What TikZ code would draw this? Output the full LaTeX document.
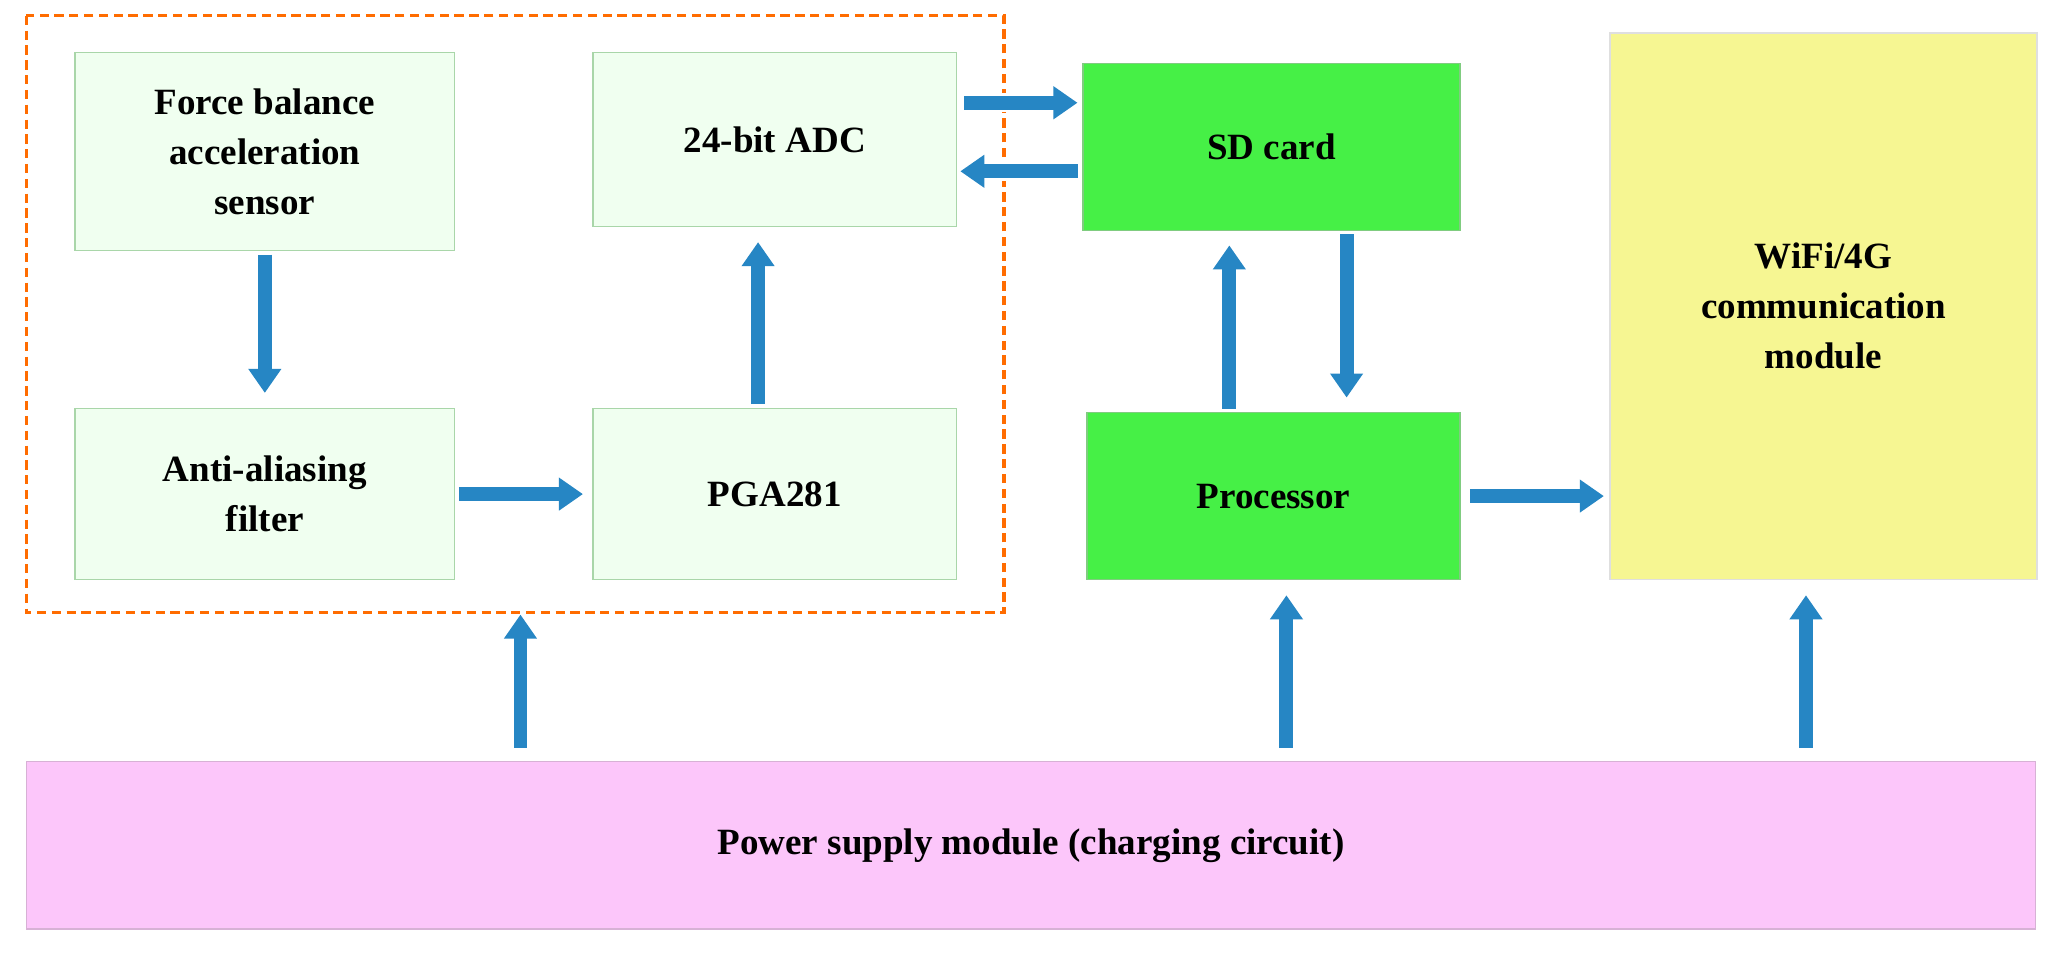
\documentclass[tikz,border=0pt]{standalone}
\usepackage{fontspec}
\setmainfont{Liberation Serif}
\usetikzlibrary{arrows.meta}
\definecolor{ab}{RGB}{38,134,196}
\definecolor{pk}{RGB}{252,198,250}
\definecolor{yl}{RGB}{246,246,146}
\definecolor{gr}{RGB}{70,240,70}
\begin{document}
\begin{tikzpicture}[x=0.05cm,y=-0.05cm,
  box/.style={line width=1.5pt, align=center, inner sep=0pt,
    font=\fontsize{40}{54}\selectfont\bfseries},
  lg/.style={box, fill=green!6, draw=green!35!gray!50},
  bg/.style={box, fill=gr, draw=green!60!black!50},
  arr/.style={line width=15pt, draw=ab, -{Triangle[length=26pt,width=34pt]},
    preaction={draw=white, line width=21pt, -{Triangle[length=30pt,width=42pt]}},
    shorten <=4, shorten >=16}]
\useasboundingbox (0,0) rectangle (1568,725);
\node[lg, minimum width=14.4cm, minimum height=7.5cm] (fb) at (201,115) {Force balance\\acceleration\\sensor};
\node[lg, minimum width=13.8cm, minimum height=6.6cm] (adc) at (588,106) {24-bit ADC};
\node[lg, minimum width=14.4cm, minimum height=6.5cm] (aa) at (201,375) {Anti-aliasing\\filter};
\node[lg, minimum width=13.8cm, minimum height=6.5cm] (pga) at (588,375) {PGA281};
\node[bg, minimum width=14.3cm, minimum height=6.35cm] (sd) at (965,111.5) {SD card};
\node[bg, minimum width=14.15cm, minimum height=6.35cm] (proc) at (966.5,376.5) {Processor};
\node[box, fill=yl, draw=gray!25, minimum width=16.2cm, minimum height=20.75cm] (wifi) at (1384,232.5) {WiFi/4G\\communication\\module};
\node[box, fill=pk, draw=pk!70!gray, minimum width=76.25cm, minimum height=6.35cm] (pow) at (782.5,641.5) {Power supply module (charging circuit)};
\draw[orange!85!red, line width=3.5pt, dash pattern=on 10pt off 6pt] (20,12) rectangle (762,465);
\coordinate (dbs) at (395,465);
\coordinate (sdl1) at (822,78); \coordinate (sdl2) at (822,130);
\coordinate (adr1) at (726,78); \coordinate (adr2) at (726,130);
\coordinate (pt) at (933,313); \coordinate (st) at (933,175);
\coordinate (sb) at (1022,175); \coordinate (pb) at (1022,313);
\draw[arr] (fb.south) -- (aa.north);
\draw[arr] ([xshift=-18]pga.north) -- ([xshift=-18]adc.south);
\draw[arr, shorten >=10] (aa.east) -- (pga.west);
\draw[arr, shorten >=6, shorten <=8] (adr1) -- (sdl1);
\draw[arr, shorten >=4, shorten <=6] (sdl2) -- (adr2);
\draw[arr] (pt) -- (st);
\draw[arr] (sb) -- (pb);
\draw[arr, shorten >=6, shorten <=10] (proc.east) -- (wifi.west |- proc.east);
\draw[arr, shorten >=2, shorten <=14] (pow.north -| dbs) -- (dbs);
\draw[arr, shorten <=14] ([xshift=14]pow.north -| proc.south) -- ([xshift=14]proc.south);
\draw[arr, shorten <=14] ([xshift=-19]pow.north -| wifi.south) -- ([xshift=-19]wifi.south);
\end{tikzpicture}
\end{document}
